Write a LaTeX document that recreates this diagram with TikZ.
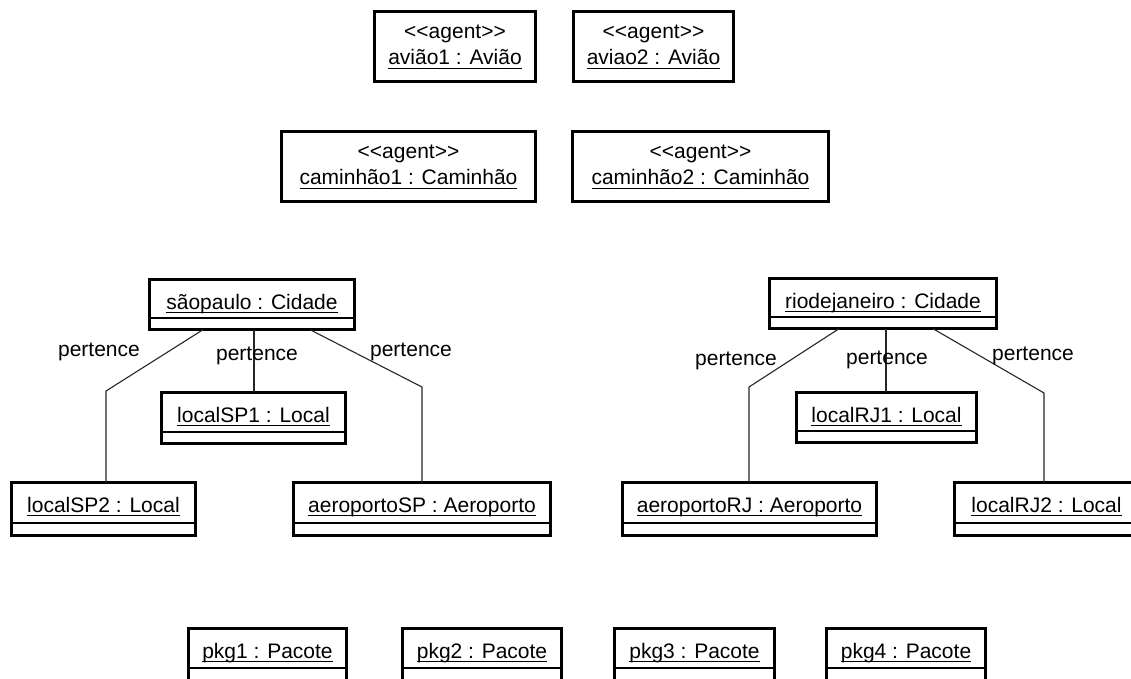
\documentclass[tikz,border=0pt]{standalone}
\usepackage{fontspec}
\setmainfont{Liberation Sans}
% underlined object name: rule drawn a little below the baseline
\newcommand\ulbox[1]{\setbox0=\hbox{#1}\hbox{\rlap{\copy0}\rule[-4.2pt]{\wd0}{1.1pt}}}
% stereotype text; kerns keep << and >> from turning into guillemets
\newcommand\agentlabel{<\kern0pt<agent>\kern0pt>}

\begin{document}
\begin{tikzpicture}[x=1pt,y=-1pt,
  objframe/.style={draw=black, line width=2.6pt, fill=white, inner sep=0pt, outer sep=0pt},
  divider/.style={line width=1.2pt},
  assoc/.style={draw=black!85, line width=1.1pt},
  lbl/.style={font=\fontsize{21}{25}\selectfont, inner sep=0pt, anchor=base},
]
\useasboundingbox (0,0) rectangle (1131,679);
\clip (0,0) rectangle (1131,679);

% object with a name compartment and an empty attribute compartment
\newcommand\objbox[7]{%
  \node[objframe, minimum width={#4-#2-2.6}, minimum height={#5-#3-2.6}]
    (#1) at ({(#2+#4)/2},{(#3+#5)/2}) {};
  \draw[divider] (#1.west |- 0,#6) -- (#1.east |- 0,#6);
  \node[lbl] (#1-name) at ({(#2+#4)/2},{#3+31}) {\ulbox{#7}};
}
% agent object: stereotype line above the underlined name
\newcommand\agentbox[6]{%
  \node[objframe, minimum width={#4-#2-2.6}, minimum height={#5-#3-2.6}]
    (#1) at ({(#2+#4)/2},{(#3+#5)/2}) {};
  \node[lbl] (#1-st) at ({(#2+#4)/2},{#3+29}) {\agentlabel};
  \node[lbl] (#1-name) at ({(#2+#4)/2},{#3+55}) {\ulbox{#6}};
}

% agents
\agentbox{av1}{373}{10}{537}{83}{avião1 : Avião}
\agentbox{av2}{572}{10}{735}{83}{aviao2 : Avião}
\agentbox{cam1}{280}{130}{537}{203}{caminhão1 : Caminhão}
\agentbox{cam2}{571}{130}{830}{203}{caminhão2 : Caminhão}

% cities and their places
\objbox{sp}{148}{278}{356}{331}{318}{sãopaulo : Cidade}
\objbox{sp1}{160}{391}{347}{445}{432}{localSP1 : Local}
\objbox{sp2}{10}{481}{197}{537}{523}{localSP2 : Local}
\objbox{aesp}{292}{481}{552}{537}{523}{aeroportoSP : Aeroporto}

\objbox{rj}{768}{277}{998}{330}{317}{riodejaneiro : Cidade}
\objbox{rj1}{795}{391}{978}{444}{431}{localRJ1 : Local}
\objbox{aerj}{621}{481}{878}{537}{523}{aeroportoRJ : Aeroporto}
\objbox{rj2}{953}{481}{1140}{537}{523}{localRJ2 : Local}

% packages
\objbox{pkg1}{187}{627}{348}{692}{668}{pkg1 : Pacote}
\objbox{pkg2}{401}{627}{563}{692}{668}{pkg2 : Pacote}
\objbox{pkg3}{613}{627}{776}{692}{668}{pkg3 : Pacote}
\objbox{pkg4}{825}{627}{987}{692}{668}{pkg4 : Pacote}

% links from São Paulo
\draw[assoc] (sp.south -| 203,0) -- (106,391) -- (sp2.north -| 106,0);
\draw[assoc] (sp.south -| 254,0) -- (sp1.north -| 254,0);
\draw[assoc] (sp.south -| 310,0) -- (422,387) -- (aesp.north -| 422,0);
% links from Rio de Janeiro
\draw[assoc] (rj.south -| 839,0) -- (749,387) -- (aerj.north -| 749,0);
\draw[assoc] (rj.south -| 886,0) -- (rj1.north -| 886,0);
\draw[assoc] (rj.south -| 933,0) -- (1044,393) -- (rj2.north -| 1044,0);

% association names
\node[lbl] (l-sp2) at (99,356) {pertence};
\node[lbl] (l-sp1) at (257,360) {pertence};
\node[lbl] (l-aesp) at (411,356) {pertence};
\node[lbl] (l-aerj) at (736,365) {pertence};
\node[lbl] (l-rj1) at (887,364) {pertence};
\node[lbl] (l-rj2) at (1033,360) {pertence};
\end{tikzpicture}
\end{document}
